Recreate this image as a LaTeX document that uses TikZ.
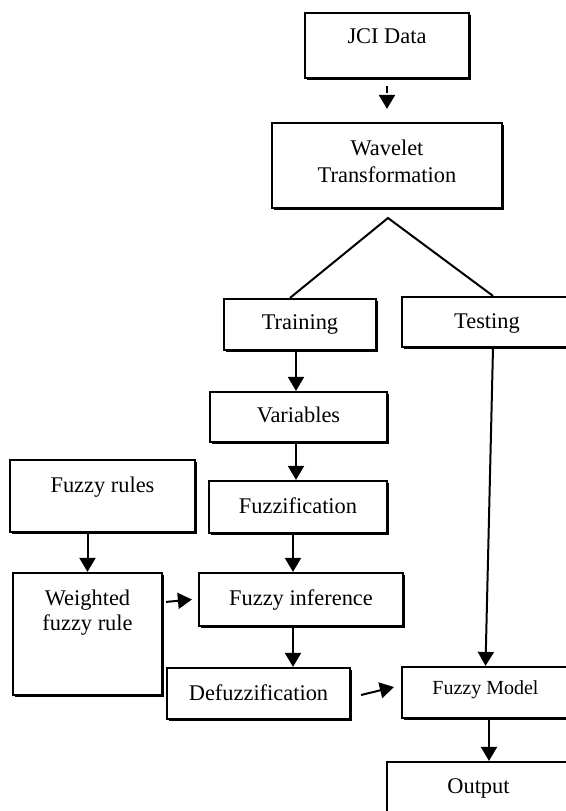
\documentclass[tikz,border=0pt]{standalone}
\usepackage{fontspec}
\setmainfont{Liberation Serif}
\usetikzlibrary{arrows.meta,shadows}

\begin{document}
\begin{tikzpicture}[x=0.5pt,y=-0.5pt]

    \tikzstyle{block}=[draw, fill=white, line width=1.1pt, anchor=base, inner sep=0pt,
        font=\fontsize{11.2pt}{13.5pt}\selectfont,
        drop shadow={shadow xshift=1pt, shadow yshift=-1pt, opacity=1, fill=black}]
    \tikzstyle{link}=[line width=1pt]
    \tikzstyle{arr}=[link, -{Triangle[length=7pt,width=8pt]}]

    \useasboundingbox (0,0) rectangle (566,811);
    \clip (0,0) rectangle (566,811);

    \node[block, minimum width=82pt, text height=15pt, text depth=17.5pt] (jci) at (387,43) {JCI Data};
    \node[block, minimum width=115pt, text height=29.5pt, text depth=13pt] (wavelet) at (387,182) {\begin{tabular}[b]{@{}c@{}}Wavelet\\Transformation\end{tabular}};
    \node[block, minimum width=76pt, text height=15pt, text depth=10.5pt] (training) at (300,329) {Training};
    \node[block, minimum width=85pt, text height=15.5pt, text depth=9.5pt] (testing) at (487,328) {Testing};
    \node[block, minimum width=88.5pt, text height=15pt, text depth=10pt] (variables) at (298.5,422) {Variables};
    \node[block, minimum width=92.5pt, text height=16pt, text depth=20pt] (rules) at (102.5,492) {Fuzzy rules};
    \node[block, minimum width=89pt, text height=16pt, text depth=10pt] (fuzzification) at (298,513) {Fuzzification};
    \node[block, minimum width=102pt, text height=16pt, text depth=10.5pt] (inference) at (301,605) {Fuzzy inference};
    \node[block, minimum width=74.5pt, text height=28.5pt, text depth=32.5pt] (weighted) at (87.5,630) {\begin{tabular}[b]{@{}c@{}}Weighted\\[-1pt]fuzzy rule\end{tabular}};
    \node[block, minimum width=91.5pt, text height=16pt, text depth=9.5pt] (defuzz) at (258.5,700) {Defuzzification};
    \node[block, minimum width=83.5pt, text height=13.5pt, text depth=12pt, font=\fontsize{10pt}{12pt}\selectfont] (model) at (485.5,694) {Fuzzy Model};
    \node[block, minimum width=91.5pt, text height=15.5pt, text depth=18.5pt] (output) at (478.5,793) {Output};

    \coordinate (split) at (388,218);

    \draw[arr, dash pattern=on 3.5pt off 2.5pt, shorten <=3.5pt, shorten >=6.5pt] (jci.south) -- (wavelet.north);
    \draw[link] ([xshift=-5pt]training.north) -- (split) -- ([xshift=3pt]testing.north);
    \draw[arr] ([xshift=-2pt]training.south) -- ([xshift=-2pt]training.south |- variables.north);
    \draw[arr] ([xshift=-1.25pt]variables.south) -- ([xshift=-1.25pt]variables.south |- fuzzification.north);
    \draw[arr] ([xshift=-2.5pt]fuzzification.south) -- ([xshift=-2.5pt]fuzzification.south |- inference.north);
    \draw[arr] (rules.south -| weighted.north) -- (weighted.north);
    \draw[arr] ([xshift=1.5pt,yshift=-15pt]weighted.north east) -- ([xshift=-3pt]inference.west);
    \draw[arr] ([xshift=-4pt]inference.south) -- ([xshift=-4pt]inference.south |- defuzz.north);
    \draw[arr] ([xshift=3pt]testing.south) -- (model.north);
    \draw[arr] ([xshift=5pt,yshift=-0.75pt]defuzz.east) -- ([xshift=-3.5pt,yshift=2.75pt]model.west);
    \draw[arr] ([xshift=1.75pt]model.south) -- ([xshift=1.75pt]model.south |- output.north);

\end{tikzpicture}
\end{document}
